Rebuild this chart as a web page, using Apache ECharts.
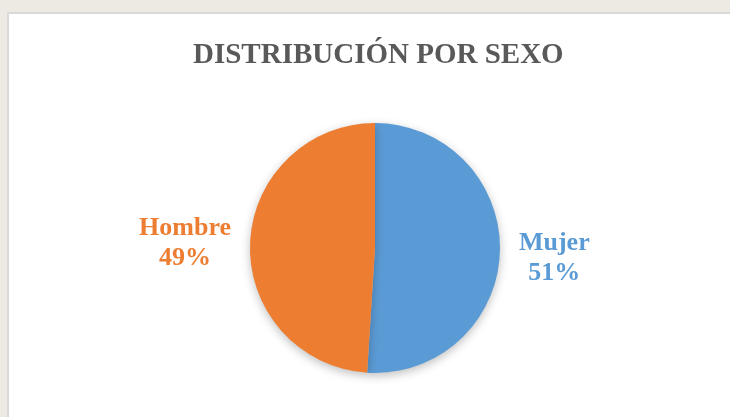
<!DOCTYPE html>
<html>
<head>
<meta charset="utf-8">
<script src="https://cdn.jsdelivr.net/npm/echarts@6/dist/echarts.min.js"></script>
<style>
  html, body { margin: 0; padding: 0; background: #eceae2; }
  #chart { width: 730px; height: 417px; }
</style>
</head>
<body>
<div id="chart"></div>
<script>
// data
const titleText = 'DISTRIBUCIÓN POR SEXO'
const categories = ['Mujer', 'Hombre']
const percentages = [51, 49]
const colors = ['#5B9BD5', '#ED7D31']

const chart = echarts.init(document.getElementById('chart'))

chart.setOption({
  backgroundColor: '#eceae2',
  animation: false,
  graphic: [{
    type: 'rect',
    left: 7,
    top: 12,
    shape: { width: 740, height: 420 },
    style: { fill: '#ffffff', stroke: '#d9d9d9', lineWidth: 2 },
    z: -10
  }],
  title: {
    text: titleText,
    left: 188,
    top: 36,
    textStyle: {
      fontFamily: 'Liberation Serif',
      fontWeight: 'bold',
      fontSize: 29,
      color: '#595959'
    }
  },
  series: [{
    type: 'pie',
    center: [375, 248],
    radius: 125,
    startAngle: 90,
    clockwise: true,
    data: categories.map((name, i) => ({
      name: name,
      value: percentages[i],
      itemStyle: { color: colors[i] },
      label: { color: colors[i] }
    })),
    itemStyle: {
      shadowBlur: 10,
      shadowColor: 'rgba(0,0,0,0.25)',
      shadowOffsetY: 3
    },
    label: {
      show: true,
      position: 'outside',
      formatter: '{b}\n{c}%',
      fontFamily: 'Liberation Serif',
      fontWeight: 'bold',
      fontSize: 26,
      lineHeight: 30
    },
    labelLine: { show: false, length: 14, length2: 0 },
    // centre each two-line label on its own box, Mujer sits a bit lower
    labelLayout: function (params) {
      return {
        x: params.labelRect.x + params.labelRect.width / 2,
        align: 'center',
        dy: params.dataIndex === 0 ? 6 : 0
      }
    },
    emphasis: { disabled: true }
  }]
})
</script>
</body>
</html>
